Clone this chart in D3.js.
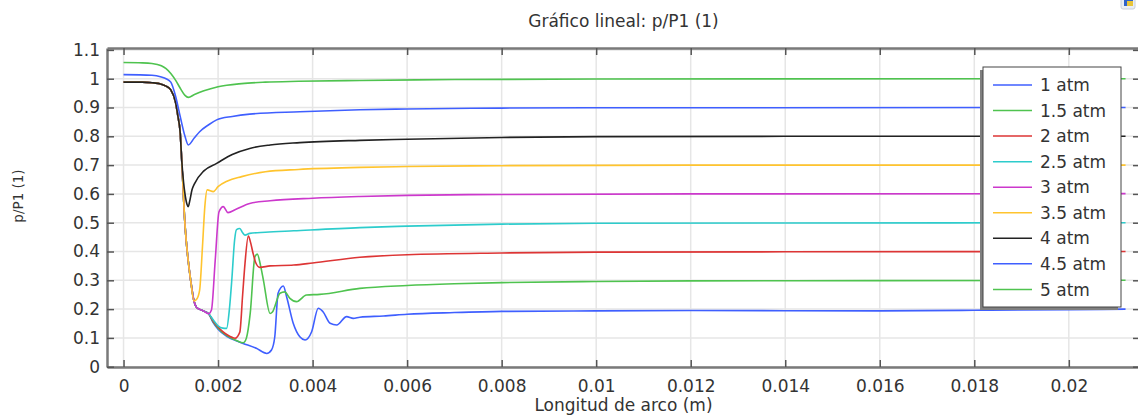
<!DOCTYPE html>
<html>
<head>
<meta charset="utf-8">
<script src="https://cdn.jsdelivr.net/npm/d3@7"></script>
<style>
  body { margin: 0; background: #fff; }
  text { font-family: "DejaVu Sans", sans-serif; fill: #333; }
</style>
</head>
<body>
<div id="chart"></div>
<script>
// series names / colours (legend order)
const seriesNames = ["1 atm", "1.5 atm", "2 atm", "2.5 atm", "3 atm", "3.5 atm", "4 atm", "4.5 atm", "5 atm"];
const seriesColors = ["#3f5fff", "#4fc34f", "#dd3535", "#2dcccc", "#cc38cc", "#ffc42e", "#222222", "#3f5fff", "#4fc34f"];

const xTicks = [0, 0.002, 0.004, 0.006, 0.008, 0.01, 0.012, 0.014, 0.016, 0.018, 0.02];
const xTickLabels = ["0", "0.002", "0.004", "0.006", "0.008", "0.01", "0.012", "0.014", "0.016", "0.018", "0.02"];
const yTicks = [0, 0.1, 0.2, 0.3, 0.4, 0.5, 0.6, 0.7, 0.8, 0.9, 1, 1.1];
const yTickLabels = ["0", "0.1", "0.2", "0.3", "0.4", "0.5", "0.6", "0.7", "0.8", "0.9", "1", "1.1"];

// common drop shared by the curves that start at ~0.99
const dropX = [0, 0.0004, 0.0006, 0.0008, 0.0009, 0.001, 0.0011, 0.00115, 0.0012, 0.00123, 0.00126, 0.00129, 0.00132, 0.00136, 0.00142, 0.00149];
const dropP = [0.988, 0.988, 0.986, 0.981, 0.974, 0.961, 0.918, 0.87, 0.81, 0.72, 0.62, 0.52, 0.45, 0.38, 0.30, 0.228];
// low plateau shared by 3 atm and below
const lowX = [0.00154, 0.0016, 0.0017, 0.0018];
const lowP = [0.207, 0.2, 0.193, 0.184];

const atm1X = [0.0019, 0.002, 0.0022, 0.0024, 0.00253, 0.00281, 0.00303, 0.00313, 0.0032, 0.00327, 0.00338, 0.00345, 0.00359, 0.00373, 0.00384, 0.00398, 0.00412, 0.00422, 0.00437, 0.00451, 0.00472, 0.00486, 0.005, 0.0055, 0.006, 0.007, 0.008, 0.01, 0.012, 0.016, 0.018, 0.02, 0.0212];
const atm1P = [0.152, 0.13, 0.104, 0.089, 0.081, 0.064, 0.046, 0.058, 0.104, 0.255, 0.28, 0.243, 0.151, 0.104, 0.093, 0.1215, 0.203, 0.191, 0.151, 0.145, 0.174, 0.168, 0.172, 0.176, 0.182, 0.188, 0.192, 0.194, 0.195, 0.194, 0.196, 0.198, 0.2];

const atm15X = [0.0019, 0.002, 0.0022, 0.0024, 0.00253, 0.0026, 0.00268, 0.00278, 0.00283, 0.0029, 0.00296, 0.0031, 0.00315, 0.00331, 0.00341, 0.00352, 0.00366, 0.00387, 0.00415, 0.005, 0.006, 0.007, 0.008, 0.01, 0.012, 0.016, 0.0212];
const atm15P = [0.155, 0.134, 0.106, 0.09, 0.083, 0.1, 0.185, 0.382, 0.391, 0.35, 0.30, 0.185, 0.19, 0.255, 0.26, 0.2375, 0.226, 0.249, 0.251, 0.272, 0.282, 0.288, 0.292, 0.296, 0.298, 0.299, 0.3];

const atm2X = [0.0019, 0.002, 0.0021, 0.0022, 0.00236, 0.00246, 0.00252, 0.00257, 0.00264, 0.00269, 0.00274, 0.0028, 0.00288, 0.0031, 0.0036, 0.004, 0.005, 0.006, 0.008, 0.01, 0.014, 0.0212];
const atm2P = [0.158, 0.138, 0.122, 0.11, 0.099, 0.12, 0.25, 0.359, 0.454, 0.43, 0.394, 0.36, 0.345, 0.35, 0.353, 0.36, 0.38, 0.389, 0.395, 0.398, 0.399, 0.4];

const atm25X = [0.0019, 0.002, 0.0021, 0.00218, 0.00224, 0.00229, 0.00235, 0.00239, 0.00246, 0.00252, 0.00257, 0.00267, 0.003, 0.0036, 0.005, 0.006, 0.008, 0.01, 0.014, 0.0212];
const atm25P = [0.162, 0.142, 0.134, 0.133, 0.2, 0.3, 0.44, 0.476, 0.48, 0.465, 0.457, 0.463, 0.467, 0.472, 0.483, 0.488, 0.495, 0.498, 0.499, 0.5];

const atm3X = [0.00186, 0.00194, 0.00202, 0.00211, 0.00221, 0.00237, 0.00267, 0.0031, 0.004, 0.005, 0.006, 0.008, 0.012, 0.0212];
const atm3P = [0.197, 0.37, 0.538, 0.556, 0.535, 0.546, 0.567, 0.576, 0.585, 0.591, 0.595, 0.598, 0.6, 0.601];

const atm35X = [0.00155, 0.00161, 0.00167, 0.00172, 0.00177, 0.0019, 0.002, 0.0022, 0.0025, 0.003, 0.0037, 0.005, 0.006, 0.008, 0.012, 0.0212];
const atm35P = [0.235, 0.266, 0.417, 0.556, 0.614, 0.608, 0.625, 0.645, 0.66, 0.677, 0.685, 0.692, 0.695, 0.698, 0.7, 0.7];

const atm4X = [0.00123, 0.00127, 0.0013, 0.00134, 0.00137, 0.0014, 0.00145, 0.0015, 0.0017, 0.00197, 0.0023, 0.00267, 0.0031, 0.00373, 0.005, 0.006, 0.008, 0.01, 0.014, 0.0212];
const atm4P = [0.72, 0.64, 0.6, 0.565, 0.556, 0.575, 0.615, 0.635, 0.68, 0.706, 0.737, 0.758, 0.77, 0.778, 0.786, 0.79, 0.796, 0.799, 0.8, 0.8];

const atm45X = [0, 0.0006, 0.0008, 0.0009, 0.001, 0.0011, 0.0012, 0.0013, 0.00137, 0.0015, 0.00161, 0.0018, 0.00197, 0.0023, 0.00267, 0.00373, 0.005, 0.006, 0.008, 0.01, 0.0212];
const atm45P = [1.014, 1.012, 1.006, 1.0, 0.988, 0.94, 0.868, 0.80, 0.77, 0.795, 0.816, 0.84, 0.857, 0.869, 0.877, 0.885, 0.892, 0.895, 0.898, 0.899, 0.9];

const atm5X = [0, 0.0004, 0.0006, 0.0008, 0.0009, 0.001, 0.0011, 0.0012, 0.0013, 0.00137, 0.0015, 0.0017, 0.002, 0.0025, 0.003, 0.0037, 0.005, 0.007, 0.01, 0.0212];
const atm5P = [1.056, 1.055, 1.053, 1.045, 1.035, 1.018, 0.995, 0.967, 0.942, 0.935, 0.945, 0.958, 0.972, 0.983, 0.988, 0.991, 0.994, 0.997, 0.999, 1.0];

const early = dropX.filter(x => x <= 0.0012);
const seriesX = [
  dropX.concat(lowX, atm1X), dropX.concat(lowX, atm15X), dropX.concat(lowX, atm2X),
  dropX.concat(lowX, atm25X), dropX.concat(lowX, atm3X), dropX.concat(atm35X),
  early.concat(atm4X), atm45X, atm5X
];
const seriesP = [
  dropP.concat(lowP, atm1P), dropP.concat(lowP, atm15P), dropP.concat(lowP, atm2P),
  dropP.concat(lowP, atm25P), dropP.concat(lowP, atm3P), dropP.concat(atm35P),
  dropP.slice(0, early.length).concat(atm4P), atm45P, atm5P
];

const width = 1138, height = 417;
const mLeft = 107, mRight = 1140, mTop = 48, mBottom = 367;

const svg = d3.select("#chart").append("svg")
  .attr("width", width)
  .attr("height", height);

const x = d3.scaleLinear().domain([-0.00035, 0.021506]).range([mLeft, mRight]);
const y = d3.scaleLinear().domain([-0.001, 1.1066]).range([mBottom, mTop]);

// grid
svg.append("g").selectAll("line").data(xTicks).enter().append("line")
  .attr("x1", d => x(d)).attr("x2", d => x(d))
  .attr("y1", mTop).attr("y2", mBottom)
  .attr("stroke", "#e6e6e6").attr("stroke-width", 1.5);
svg.append("g").selectAll("line").data(yTicks).enter().append("line")
  .attr("x1", mLeft).attr("x2", mRight)
  .attr("y1", d => y(d)).attr("y2", d => y(d))
  .attr("stroke", "#e6e6e6").attr("stroke-width", 1.5);

// lines
svg.append("clipPath").attr("id", "clip").append("rect")
  .attr("x", mLeft).attr("y", mTop).attr("width", mRight - mLeft).attr("height", mBottom - mTop);

const line = d3.line()
  .x(d => x(d[0]))
  .y(d => y(d[1]))
  .curve(d3.curveMonotoneX);

const plot = svg.append("g").attr("clip-path", "url(#clip)");
seriesNames.forEach((name, i) => {
  const pts = seriesX[i].map((v, j) => [v, seriesP[i][j]]);
  plot.append("path")
    .attr("d", line(pts))
    .attr("fill", "none")
    .attr("stroke", seriesColors[i])
    .attr("stroke-width", 1.6);
});

// axes (ticks inward)
function styleAxis(g) {
  g.select(".domain").attr("stroke", "#7a7a7a").attr("stroke-width", 2.5);
  g.selectAll(".tick line").attr("stroke", "#555").attr("stroke-width", 1.5);
  g.selectAll(".tick text").attr("fill", "#222").style("font-size", "17px")
    .style("font-family", "DejaVu Sans, sans-serif");
}

svg.append("g").attr("transform", `translate(0,${mBottom})`)
  .call(d3.axisBottom(x).tickValues(xTicks).tickSize(-7).tickSizeOuter(0).tickPadding(13)
    .tickFormat((d, i) => xTickLabels[i]))
  .call(styleAxis);
svg.append("g").attr("transform", `translate(0,${mTop})`)
  .call(d3.axisTop(x).tickValues(xTicks).tickSize(-7).tickSizeOuter(0).tickFormat(""))
  .call(styleAxis);
svg.append("g").attr("transform", `translate(${mLeft},0)`)
  .call(d3.axisLeft(y).tickValues(yTicks).tickSize(-7).tickSizeOuter(0).tickPadding(7)
    .tickFormat((d, i) => yTickLabels[i]))
  .call(styleAxis);
svg.append("g").attr("transform", `translate(${mRight},0)`)
  .call(d3.axisRight(y).tickValues(yTicks).tickSize(-7).tickSizeOuter(0).tickFormat(""))
  .call(styleAxis);

// titles
svg.append("text")
  .attr("x", (mLeft + mRight) / 2).attr("y", 27)
  .attr("text-anchor", "middle")
  .style("font-size", "17px")
  .text("Gráfico lineal: p/P1 (1)");
svg.append("text")
  .attr("x", (mLeft + mRight) / 2).attr("y", 411)
  .attr("text-anchor", "middle")
  .style("font-size", "17px")
  .text("Longitud de arco (m)");
svg.append("text")
  .attr("transform", "translate(23,196) rotate(-90)")
  .attr("text-anchor", "middle")
  .style("font-size", "13.5px")
  .text("p/P1 (1)");

// legend
const lg = svg.append("g");
const lx = 983, ly = 67, lw = 138, lh = 240;
lg.append("rect").attr("x", lx - 3).attr("y", ly + 3).attr("width", lw).attr("height", lh).attr("fill", "#808080");
lg.append("rect").attr("x", lx).attr("y", ly).attr("width", lw).attr("height", lh)
  .attr("fill", "#fff").attr("stroke", "#444").attr("stroke-width", 1);
seriesNames.forEach((name, i) => {
  const cy = 85 + i * 25.55;
  lg.append("line").attr("x1", 993).attr("x2", 1032).attr("y1", cy).attr("y2", cy)
    .attr("stroke", seriesColors[i]).attr("stroke-width", 1.5);
  lg.append("text").attr("x", 1040).attr("y", cy).attr("dy", "0.36em")
    .style("font-size", "17px").attr("fill", "#222")
    .text(name);
});

// small toolbar icon at the top right
svg.append("rect").attr("x", 1121).attr("y", -5).attr("width", 14).attr("height", 14).attr("rx", 2)
  .attr("fill", "#e9eef5").attr("stroke", "#c8d0dc");
svg.append("rect").attr("x", 1124).attr("y", -3).attr("width", 9).attr("height", 9)
  .attr("fill", "#2f63c9");
svg.append("rect").attr("x", 1127).attr("y", 1).attr("width", 6).attr("height", 5)
  .attr("fill", "#e8c53a");
</script>
</body>
</html>
